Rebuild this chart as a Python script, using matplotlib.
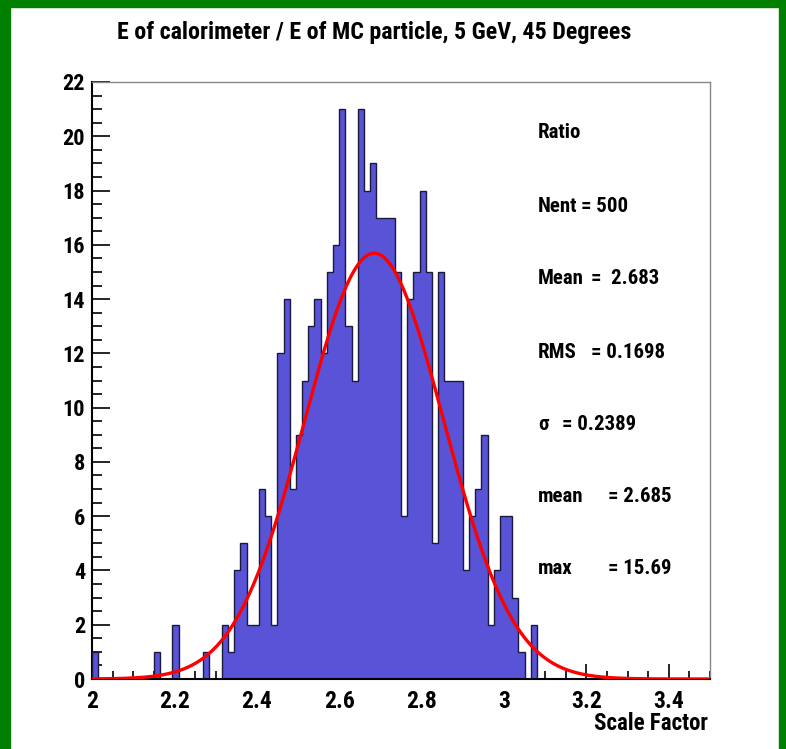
import numpy as np
import matplotlib
matplotlib.use("Agg")
import matplotlib.pyplot as plt
from matplotlib.patches import Rectangle
from matplotlib.ticker import MultipleLocator, FuncFormatter

plt.rcParams['font.family'] = ['Roboto Condensed', 'Barlow Semi Condensed', 'Liberation Sans']
plt.rcParams['font.weight'] = 'bold'

# 直方图数据 (100 bins, 2.0 - 3.5)
x_min, x_max, n_bins = 2.0, 3.5, 100
counts = [
    1, 0, 0, 0, 0, 0, 0, 0, 0, 0,
    1, 0, 0, 2, 0, 0, 0, 0, 1, 0,
    0, 2, 1, 4, 5, 2, 2, 7, 6, 2,
    12, 14, 7, 9, 11, 13, 14, 12, 15, 16,
    21, 13, 11, 21, 18, 19, 17, 17, 17, 15,
    6, 14, 15, 18, 15, 5, 15, 11, 11, 11,
    4, 6, 7, 9, 2, 4, 6, 6, 3, 1,
    0, 2, 0, 0, 0, 0, 0, 0, 0, 0,
    0, 0, 0, 0, 0, 0, 0, 0, 0, 0,
    0, 0, 0, 0, 0, 0, 0, 0, 0, 0,
]

# 拟合参数: max * exp(-((x - mean) / sigma)^2)
fit_max = 15.69
fit_mean = 2.685
fit_sigma = 0.2389

# 统计框文字
stat_labels = ["Ratio", "Nent", "Mean", "RMS", "\u03c3", "mean", "max"]
stat_values = ["", "= 500", "=  2.683", "= 0.1698", "= 0.2389", "= 2.685", "= 15.69"]
stat_eq_px = [0, 581, 591, 591, 562, 608, 608]
stat_y_px = [133, 206, 278, 352, 424, 497, 569]

W, H = 786, 749
fig = plt.figure(figsize=(W / 100, H / 100), dpi=100)

# 绿色边框
green = '#008000'
fig.patches.append(Rectangle((0, 0), 10 / W, 1, transform=fig.transFigure, color=green, zorder=0))
fig.patches.append(Rectangle((0, 1 - 7 / H), 1, 7 / H, transform=fig.transFigure, color=green, zorder=0))
fig.patches.append(Rectangle((1 - 7 / W, 0), 7 / W, 1, transform=fig.transFigure, color=green, zorder=0))

ax_l, ax_r, ax_t, ax_b = 92, 710, 82, 679
ax = fig.add_axes([ax_l / W, (H - ax_b) / H, (ax_r - ax_l) / W, (ax_b - ax_t) / H])

edges = np.linspace(x_min, x_max, n_bins + 1)
ax.stairs(counts, edges, fill=True, color='#5953D8', zorder=2)
ax.stairs(counts, edges, fill=False, color='#1a1a3a', linewidth=1.0, baseline=0, zorder=3)

xs = np.linspace(x_min, x_max, 500)
ax.plot(xs, fit_max * np.exp(-((xs - fit_mean) / fit_sigma) ** 2),
        color='#ff0000', linewidth=2.4, zorder=4)

ax.set_xlim(x_min, x_max)
ax.set_ylim(0, 22)
ax.xaxis.set_major_locator(MultipleLocator(0.2))
ax.xaxis.set_minor_locator(MultipleLocator(0.05))
ax.yaxis.set_major_locator(MultipleLocator(2))
ax.yaxis.set_minor_locator(MultipleLocator(0.5))
ax.xaxis.set_major_formatter(FuncFormatter(lambda v, p: f"{v:g}"))
ax.tick_params(axis='both', which='both', direction='in', top=False, right=False, width=1.2)
ax.tick_params(axis='x', which='major', length=11, labelsize=17, pad=8)
ax.tick_params(axis='x', which='minor', length=6)
ax.tick_params(axis='y', which='major', length=13, labelsize=16, pad=5)
ax.tick_params(axis='y', which='minor', length=7)
for s in ['top', 'right']:
    ax.spines[s].set_color('#888888')
    ax.spines[s].set_linewidth(1.0)
for s in ['left', 'bottom']:
    ax.spines[s].set_linewidth(1.5)

fig.text(374 / W, 1 - 32 / H, "E of calorimeter / E of MC particle, 5 GeV, 45 Degrees",
         ha='center', va='center', fontsize=17.3, fontweight='bold')
fig.text(708 / W, 1 - 724 / H, "Scale Factor", ha='right', va='center', fontsize=16.5, fontweight='bold')

for lab, val, ex, sy in zip(stat_labels, stat_values, stat_eq_px, stat_y_px):
    fig.text(538 / W, 1 - sy / H, lab, ha='left', va='center', fontsize=15, fontweight='bold')
    if val:
        fig.text(ex / W, 1 - sy / H, val, ha='left', va='center', fontsize=15, fontweight='bold')

fig.savefig("out.png", dpi=100)
